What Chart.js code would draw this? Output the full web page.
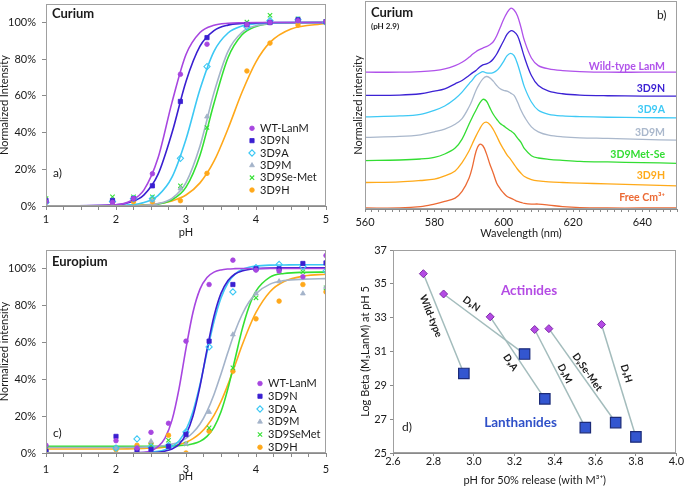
<!DOCTYPE html>
<html>
<head>
<meta charset="utf-8">
<script src="https://cdn.jsdelivr.net/npm/chart.js@4.4.1/dist/chart.umd.min.js"></script>
<style>
  body { margin: 0; background: #fff; }
  #wrap { position: relative; width: 685px; height: 489px; }
  canvas { position: absolute; }
</style>
</head>
<body>
<div id="wrap">
  <canvas id="chartA" width="340" height="240" style="left:0;top:0"></canvas>
  <canvas id="chartB" width="345" height="240" style="left:340px;top:0"></canvas>
  <canvas id="chartC" width="340" height="249" style="left:0;top:240px"></canvas>
  <canvas id="chartD" width="345" height="249" style="left:340px;top:240px"></canvas>
</div>
<script>
// ---- a) Curium release curves ----
const cmNames = ["WT-LanM", "3D9N", "3D9A", "3D9M", "3D9Se-Met", "3D9H"];
const cmPH = [1, 1.95, 2.25, 2.52, 2.92, 3.3, 3.87, 4.2, 4.6, 5];
const cmWT = [2.3, 2, 4, 17.6, 71.8, 88.2, 99, 100, 101, 100.5];
const cm3D9N = [3, 3, 4, 11, 57, 91.8, 99, 100, 101.5, 100.5];
const cm3D9A = [2, 2.5, 4, 4, 26, 76, 97.6, 101, 101.5, 100];
const cm3D9M = [2, 3, 4, 3, 9.5, 48.7, 98, 101, 101, 100];
const cmSeMet = [4, 5, 5, 5, 11, 42.8, 100.3, 104, 102, 100.5];
const cm3D9H = [2, 2, 2.3, 2.3, 2.9, 17.8, 73.6, 88.8, 98.6, 100];

const cmFitPH = [1, 2, 2.2, 2.4, 2.6, 2.8, 3.0, 3.2, 3.4, 3.6, 3.8, 4.0, 4.2, 4.5, 5];
const cmFitWT = [0, 0.7, 2.6, 8.8, 26.1, 56.5, 82.6, 94.6, 98.5, 99.6, 99.9, 100, 100, 100, 100];
const cmFit3D9N = [0, 0.6, 2.0, 6.1, 17.2, 39.9, 67.9, 87.1, 95.6, 98.6, 99.5, 99.8, 100, 100, 100];
const cmFit3D9A = [0, 0.2, 0.6, 1.9, 5.7, 15.7, 36.4, 63.6, 84.3, 94.3, 98.1, 99.4, 99.8, 100, 100];
const cmFit3D9M = [0, 0, 0.1, 0.4, 1.3, 4.2, 12.8, 32.7, 61.8, 84.3, 94.7, 98.3, 99.5, 99.9, 100];
const cmFitSeMet = [0, 0, 0.1, 0.3, 1.0, 3.4, 10.3, 27.7, 56, 80.8, 93.3, 97.9, 99.4, 99.9, 100];
const cmFit3D9H = [0, 0.1, 0.3, 0.6, 1.2, 2.8, 6.0, 12.6, 24.4, 42.1, 62, 78.6, 89.2, 96.5, 99.5];

// ---- b) Curium emission spectra (stacked) ----
const specNames = ["Wild-type LanM", "3D9N", "3D9A", "3D9M", "3D9Met-Se", "3D9H", "Free Cm³⁺"];
const wavelengths = [560, 570, 576, 580, 583, 586, 588, 590, 591, 592, 593, 594, 595, 596, 597, 598,
  599, 600, 601, 602, 603, 604, 605, 606, 608, 610, 613, 617, 622, 630, 640, 650];
const specWT = [0, 0, 1, 2.5, 5, 10, 15, 22.5, 27, 31, 34, 36.5, 38.5, 41.5, 46, 55,
  67.5, 80, 90, 96.5, 94, 85, 67.5, 47.5, 21.5, 10, 5, 2.5, 1, 0, 0, 0];
const spec3D9N = [0, 0.5, 2.5, 6.5, 10, 17.5, 22.5, 30, 34, 37.5, 42.5, 46, 47.5, 50, 55, 62.5,
  72.5, 82.5, 92.5, 97.5, 96, 90, 75, 57.5, 30, 15, 6.5, 2.5, 0.5, -0.5, -1, -1];
const spec3D9A = [0, 1.5, 4, 10, 16.5, 27.5, 37.5, 50, 56, 62.5, 66, 68.5, 66.5, 66, 67, 70,
  76, 84, 92.5, 96, 92.5, 80, 62.5, 45, 22.5, 10, 4, 1.5, 0.5, -0.5, -1, -1.5];
const spec3D9M = [0, 1.5, 4, 8.5, 12.5, 20, 28.5, 46, 57.5, 71, 81, 88.5, 92, 90, 85, 78.5,
  73.5, 71, 70, 67, 63.5, 53.5, 41, 31, 16, 8.5, 3.5, 1, -0.5, -1.5, -3, -4];
const specSeMet = [0, 1, 2.5, 5, 10, 19, 32.5, 55, 66, 76, 86, 92.5, 90, 80, 70, 62.5,
  56, 52.5, 48.5, 45, 41, 34, 27.5, 18, 7.5, 4, 2, 0.5, -1, -2, -3, -4];
const spec3D9H = [0, 1, 3, 5, 10, 17.5, 30, 47.5, 59, 70, 80, 88.5, 91, 87.5, 80, 70,
  59, 50, 41.5, 35, 27.5, 20, 14, 9, 4.5, 2.5, 1, 0, -1, -2, -3.5, -5];
const specFree = [0, 0, 2, 6, 10, 15, 25, 45, 62.5, 85, 96, 94, 82.5, 66.5, 52.5, 37.5,
  29, 22.5, 17.5, 15, 12.5, 10, 8.5, 7, 6, 6, 4.5, 2, 0.5, 0, 0, 0];
const specOffsets = [206.5, 171.5, 139, 108, 73, 40, 1.5];

// ---- c) Europium release curves ----
const euNames = ["WT-LanM", "3D9N", "3D9A", "3D9M", "3D9SeMet", "3D9H"];
const euPH = [1, 2, 2.3, 2.5, 2.75, 3, 3.33, 3.67, 4, 4.33, 4.67, 5];
const euWT = [4.2, 6.7, 2.7, 11.2, 16.1, 60.6, 91.3, 104.5, 99.1, 98.6, 95.5, 107];
const eu3D9N = [1, 9, 1.3, 2, 3.6, 10, 60.6, 91.3, 99.8, 99.8, 102.7, 103];
const eu3D9A = [0, 2.7, 7.6, 3.3, 4, 11.4, 57.5, 87.3, 100.4, 102.2, 101, 98.6];
const eu3D9M = [1.8, 2.7, 2.7, 6.3, 4.5, 5, 22.2, 64.2, 86.4, 93, 86.4, 90];
const euSeMet = [2.2, 2.7, 2.7, 4, 6.9, 4.9, 13.6, 46.1, 84.1, 98.6, 98.2, 89.5];
const eu3D9H = [1.4, 1.8, 4.2, 5.1, 9.6, 0, 11.8, 44.3, 72.7, 82.3, 91.3, 87.3];

const euFitPH = [1, 2, 2.4, 2.6, 2.7, 2.8, 2.9, 3.0, 3.1, 3.2, 3.3, 3.4, 3.5, 3.6, 3.7, 3.8, 3.9, 4.0, 4.2, 4.4, 4.7, 5];
const euFitWT = [0, 0, 0.4, 3.5, 8.1, 17.8, 34.8, 56.7, 76.3, 88.8, 95.1, 98, 99.2, 99.7, 99.9, 100, 100, 100, 100, 100, 100, 100];
const euFit3D9N = [0, 0, 0.1, 0.4, 1.0, 2.2, 4.7, 10.1, 20.1, 36.1, 56, 74.1, 86.5, 93.5, 97, 98.6, 99.4, 99.8, 100.2, 100.3, 100.3, 100.3];
const euFit3D9A = [0, 0, 0.2, 0.9, 1.8, 3.4, 6.5, 12.6, 22.5, 37.1, 54.6, 71.2, 84, 92.2, 96.9, 99.4, 100.6, 101.3, 101.8, 101.9, 102, 102];
const euFit3D9M = [3, 3, 3.2, 3.6, 4.1, 4.8, 6.0, 7.9, 11.1, 15.7, 22.6, 31.7, 42.8, 54.7, 65.8, 74.9, 81.8, 86.4, 91.5, 93.4, 94.2, 94.5];
const euFitSeMet = [3.6, 3.6, 3.6, 3.6, 3.6, 3.8, 4.0, 4.3, 5.0, 6.3, 9.0, 13.9, 22.3, 35, 50.8, 66.7, 79.3, 87.7, 95.3, 97.3, 97.9, 98];
const euFit3D9H = [2.2, 2.2, 2.5, 2.8, 3.2, 3.7, 4.6, 5.8, 7.8, 10.6, 14.8, 20.4, 27.9, 37.2, 47.6, 58.2, 67.9, 76.2, 87.4, 92.9, 96, 96.9];

// ---- d) log beta vs pH50 ----
const pairNames = ["Wild-type", "D₉N", "D₉A", "D₉M", "D₉Se-Met", "D₉H"];
const actinidePH = [2.75, 2.85, 3.08, 3.30, 3.37, 3.63];
const actinideBeta = [35.6, 34.4, 33.05, 32.3, 32.35, 32.6];
const lanthanidePH = [2.95, 3.25, 3.35, 3.55, 3.70, 3.80];
const lanthanideBeta = [29.7, 30.85, 28.2, 26.5, 26.8, 25.95];

// ---- styles ----
const FONT = "Lato, 'Open Sans', sans-serif";
const INK = "#1a1a1a";
const COLORS = ["#a746e0", "#3a1fd1", "#3cc8f4", "#a3b3c9", "#33e033", "#ffa81a"];
const SPEC_COLORS = ["#b052ea", "#3c22d4", "#3ec9f5", "#aab8cc", "#33dd33", "#ffaa1a", "#ec6a35"];
const MARKERS = [
  { style: "circle", r: 2.3 },
  { style: "rect", r: 3 },
  { style: "rectRot", r: 3.1, open: true },
  { style: "triangle", r: 2.8 },
  { style: "crossRot", r: 3.1, open: true },
  { style: "circle", r: 2.3 }
];

function pts(xs, ys) {
  return xs.map((x, i) => ({ x: x, y: ys[i] }));
}

function markerSet(label, xs, ys, i) {
  const m = MARKERS[i];
  return {
    label: label, data: pts(xs, ys), showLine: false,
    pointStyle: m.style, pointRadius: m.r, pointHoverRadius: m.r,
    pointBackgroundColor: m.open ? "rgba(255,255,255,0)" : COLORS[i],
    pointBorderColor: COLORS[i], pointBorderWidth: m.open ? 1.1 : 0.8
  };
}

function fitSet(xs, ys, i) {
  return {
    label: "", data: pts(xs, ys), showLine: true, pointRadius: 0,
    borderColor: COLORS[i], borderWidth: 1.6, cubicInterpolationMode: "monotone"
  };
}

function axis(o) {
  return {
    type: "linear", min: o.min, max: o.max,
    afterFit: s => {
      if (s.isHorizontal()) s.height = o.size; else s.width = o.size;
      s.paddingTop = 0; s.paddingBottom = 0; s.paddingLeft = 0; s.paddingRight = 0;
    },
    border: { display: true, color: "#8a8a8a", width: 1 },
    grid: { drawOnChartArea: false, drawTicks: o.tick > 0, tickLength: o.tick, color: "#8a8a8a" },
    ticks: {
      display: o.fmt !== null, stepSize: o.step, autoSkip: false, maxRotation: 0, includeBounds: false,
      padding: o.pad, color: INK, font: { family: FONT, size: 11, lineHeight: o.tickLH || 1.2 },
      callback: o.fmt || (v => v)
    },
    title: {
      display: true, text: o.title, color: INK,
      font: { family: FONT, size: 11, lineHeight: o.titleLH || 1.2 }, padding: o.titlePad
    }
  };
}

function baseOptions(pad, scales, extra) {
  return {
    responsive: false, animation: false, devicePixelRatio: 1, events: [],
    layout: { padding: pad },
    plugins: Object.assign({ legend: { display: false }, tooltip: { enabled: false } }, extra || {}),
    scales: scales
  };
}

const framePlugin = {
  id: "frame",
  afterDraw(chart) {
    const { ctx, chartArea: a } = chart;
    ctx.save();
    ctx.strokeStyle = "#a0a0a0";
    ctx.lineWidth = 1;
    ctx.strokeRect(Math.round(a.left) + 0.5, Math.round(a.top) + 0.5,
      Math.round(a.right - a.left) - 1, Math.round(a.bottom - a.top) - 1);
    ctx.restore();
  }
};

function textPlugin(id, items) {
  return {
    id: id,
    afterDraw(chart) {
      const ctx = chart.ctx;
      items.forEach(it => {
        ctx.save();
        ctx.font = it.font;
        ctx.fillStyle = it.color || INK;
        ctx.textAlign = it.align || "left";
        ctx.textBaseline = "middle";
        ctx.fillText(it.text, it.x, it.y);
        ctx.restore();
      });
    }
  };
}

function legendPlugin(id, names, x, textX, y0, dy) {
  return {
    id: id,
    afterDraw(chart) {
      const ctx = chart.ctx;
      names.forEach((name, i) => {
        const m = MARKERS[i];
        const y = y0 + dy * i;
        ctx.save();
        ctx.fillStyle = m.open ? "rgba(255,255,255,0)" : COLORS[i];
        ctx.strokeStyle = COLORS[i];
        ctx.lineWidth = m.open ? 1.1 : 0.8;
        Chart.helpers.drawPoint(ctx, { pointStyle: m.style, radius: m.r, rotation: 0, borderWidth: ctx.lineWidth }, x, y);
        ctx.font = "11px " + FONT;
        ctx.fillStyle = INK;
        ctx.textAlign = "left";
        ctx.textBaseline = "middle";
        ctx.fillText(name, textX, y);
        ctx.restore();
      });
    }
  };
}

const pctFmt = v => v + "%";
const intFmt = v => Number.isInteger(v) ? v : "";

// a)
new Chart(document.getElementById("chartA"), {
  type: "scatter",
  data: {
    datasets: [
      markerSet(cmNames[0], cmPH, cmWT, 0),
      markerSet(cmNames[1], cmPH, cm3D9N, 1),
      markerSet(cmNames[2], cmPH, cm3D9A, 2),
      markerSet(cmNames[3], cmPH, cm3D9M, 3),
      markerSet(cmNames[4], cmPH, cmSeMet, 4),
      markerSet(cmNames[5], cmPH, cm3D9H, 5),
      fitSet(cmFitPH, cmFitWT, 0),
      fitSet(cmFitPH, cmFit3D9N, 1),
      fitSet(cmFitPH, cmFit3D9A, 2),
      fitSet(cmFitPH, cmFit3D9M, 3),
      fitSet(cmFitPH, cmFitSeMet, 4),
      fitSet(cmFitPH, cmFit3D9H, 5)
    ]
  },
  options: baseOptions({ top: 1, right: 14, left: 0, bottom: 0 }, {
    x: axis({ min: 1, max: 5, step: 0.25, size: 34, tick: 4, pad: 3, fmt: intFmt,
      title: "pH", titlePad: { top: 0, bottom: 0.5 } }),
    y: axis({ min: 0, max: 110, step: 20, size: 46, tick: 4, pad: 6, fmt: pctFmt,
      title: "Normalized Intensity", titleLH: 0.9, titlePad: { top: 0, bottom: 0 } })
  }),
  plugins: [framePlugin,
    textPlugin("labelsA", [
      { text: "Curium", x: 52, y: 14, font: "bold 13px " + FONT },
      { text: "a)", x: 53, y: 173, font: "12px " + FONT }
    ]),
    legendPlugin("legendA", cmNames, 252, 260, 128.3, 12.35)]
});

// b)
const spectra = [specWT, spec3D9N, spec3D9A, spec3D9M, specSeMet, spec3D9H, specFree];
new Chart(document.getElementById("chartB"), {
  type: "scatter",
  data: {
    datasets: spectra.map((s, i) => ({
      label: specNames[i],
      data: wavelengths.map((w, j) => ({ x: w, y: specOffsets[i] + s[j] })),
      showLine: true, pointRadius: 0, borderColor: SPEC_COLORS[i], borderWidth: 1.3, tension: 0.35
    }))
  },
  options: baseOptions({ top: 1, right: 8, left: 0, bottom: 0 }, {
    x: axis({ min: 560, max: 650, step: 2, size: 31, tick: 3, pad: 4,
      fmt: v => (v % 20 === 0 && v < 650) ? v : "",
      title: "Wavelength (nm)", titleLH: 1.1, titlePad: { top: 0, bottom: 0 } }),
    y: axis({ min: 0, max: 314, step: 50, size: 25, tick: 0, pad: 0, fmt: null,
      title: "Normalized intensity", titlePad: { top: 11.4, bottom: 0 } })
  }),
  plugins: [framePlugin,
    textPlugin("labelsB", [
      { text: "Curium", x: 31, y: 13, font: "bold 13px " + FONT },
      { text: "(pH 2.9)", x: 31, y: 26.5, font: "bold 8px " + FONT },
      { text: "b)", x: 317, y: 15, font: "12px " + FONT },
      { text: specNames[0], x: 325, y: 66.7, font: "bold 10.5px " + FONT, color: SPEC_COLORS[0], align: "right" },
      { text: specNames[1], x: 325, y: 89, font: "bold 10.5px " + FONT, color: SPEC_COLORS[1], align: "right" },
      { text: specNames[2], x: 325, y: 109.5, font: "bold 10.5px " + FONT, color: SPEC_COLORS[2], align: "right" },
      { text: specNames[3], x: 325, y: 133, font: "bold 10.5px " + FONT, color: SPEC_COLORS[3], align: "right" },
      { text: specNames[4], x: 325, y: 155, font: "bold 10.5px " + FONT, color: SPEC_COLORS[4], align: "right" },
      { text: specNames[5], x: 325, y: 176, font: "bold 10.5px " + FONT, color: SPEC_COLORS[5], align: "right" },
      { text: specNames[6], x: 325, y: 198, font: "bold 10.5px " + FONT, color: SPEC_COLORS[6], align: "right" }
    ])]
});

// c)
new Chart(document.getElementById("chartC"), {
  type: "scatter",
  data: {
    datasets: [
      markerSet(euNames[0], euPH, euWT, 0),
      markerSet(euNames[1], euPH, eu3D9N, 1),
      markerSet(euNames[2], euPH, eu3D9A, 2),
      markerSet(euNames[3], euPH, eu3D9M, 3),
      markerSet(euNames[4], euPH, euSeMet, 4),
      markerSet(euNames[5], euPH, eu3D9H, 5),
      fitSet(euFitPH, euFitWT, 0),
      fitSet(euFitPH, euFit3D9N, 1),
      fitSet(euFitPH, euFit3D9A, 2),
      fitSet(euFitPH, euFit3D9M, 3),
      fitSet(euFitPH, euFitSeMet, 4),
      fitSet(euFitPH, euFit3D9H, 5)
    ]
  },
  options: baseOptions({ top: 10, right: 14, left: 0, bottom: 0 }, {
    x: axis({ min: 1, max: 5, step: 0.25, size: 36, tick: 4, pad: 6, fmt: intFmt,
      title: "pH", titlePad: { top: 0, bottom: 5.7 } }),
    y: axis({ min: 0, max: 110, step: 20, size: 46, tick: 4, pad: 6, fmt: pctFmt,
      title: "Normalized intensity", titleLH: 0.9, titlePad: { top: 0, bottom: 0 } })
  }),
  plugins: [framePlugin,
    textPlugin("labelsC", [
      { text: "Europium", x: 52, y: 22, font: "bold 13px " + FONT },
      { text: "c)", x: 53, y: 193, font: "12px " + FONT }
    ]),
    legendPlugin("legendC", euNames, 260, 268, 143.5, 12.75)]
});

// d)
const LABEL_T = [0.39, 0.28, 0.5, 0.48, 0.5, 0.46];
const LABEL_OFF = [-9, 8.6, -8.4, 6.6, 6.1, 9.4];
const pairLabelPlugin = {
  id: "pairLabels",
  afterDatasetsDraw(chart) {
    const { ctx, scales: { x, y } } = chart;
    ctx.save();
    ctx.font = "bold 10px " + FONT;
    ctx.fillStyle = INK;
    ctx.textAlign = "center";
    ctx.textBaseline = "middle";
    pairNames.forEach((name, i) => {
      const ax = x.getPixelForValue(actinidePH[i]), ay = y.getPixelForValue(actinideBeta[i]);
      const bx = x.getPixelForValue(lanthanidePH[i]), by = y.getPixelForValue(lanthanideBeta[i]);
      const dx = bx - ax, dy = by - ay, len = Math.hypot(dx, dy);
      const px = ax + dx * LABEL_T[i] + dy / len * LABEL_OFF[i];
      const py = ay + dy * LABEL_T[i] - dx / len * LABEL_OFF[i];
      ctx.save();
      ctx.translate(px, py);
      ctx.rotate(Math.atan2(dy, dx));
      ctx.fillText(name, 0, 0);
      ctx.restore();
    });
    ctx.restore();
  }
};

new Chart(document.getElementById("chartD"), {
  type: "scatter",
  data: {
    datasets: [
      {
        label: "Actinides", data: pts(actinidePH, actinideBeta), pointStyle: "rectRot",
        pointRadius: 4, pointBackgroundColor: "#b44be4", pointBorderColor: "#7d2ba6", pointBorderWidth: 1
      },
      {
        label: "Lanthanides", data: pts(lanthanidePH, lanthanideBeta), pointStyle: "rect",
        pointRadius: 7.4, pointBackgroundColor: "#3356d0", pointBorderColor: "#1c2b78", pointBorderWidth: 1.2
      }
    ].concat(pairNames.map((n, i) => ({
      label: n,
      data: [{ x: actinidePH[i], y: actinideBeta[i] }, { x: lanthanidePH[i], y: lanthanideBeta[i] }],
      showLine: true, pointRadius: 0, borderColor: "#a3bcbc", borderWidth: 1.5
    })))
  },
  options: baseOptions({ top: 10, right: 8, left: 0, bottom: 0 }, {
    x: axis({ min: 2.6, max: 4.0, step: 0.2, size: 36, tick: 3, pad: 0, tickLH: 1,
      fmt: v => v.toFixed(1),
      title: "pH for 50% release (with M³⁺)", titlePad: { top: 0, bottom: 2.4 } }),
    y: axis({ min: 25, max: 37, step: 2, size: 53, tick: 3, pad: 3, fmt: v => v,
      title: "Log Beta (M₃LanM) at pH 5", titlePad: { top: 18.4, bottom: 0 } })
  }),
  plugins: [framePlugin, pairLabelPlugin,
    textPlugin("labelsD", [
      { text: "Actinides", x: 189, y: 50.5, font: "bold 13.5px " + FONT, color: "#b44be4", align: "center" },
      { text: "Lanthanides", x: 180.5, y: 182.5, font: "bold 13.5px " + FONT, color: "#2f50c8", align: "center" },
      { text: "d)", x: 62, y: 187.5, font: "12px " + FONT }
    ])]
});
</script>
</body>
</html>
